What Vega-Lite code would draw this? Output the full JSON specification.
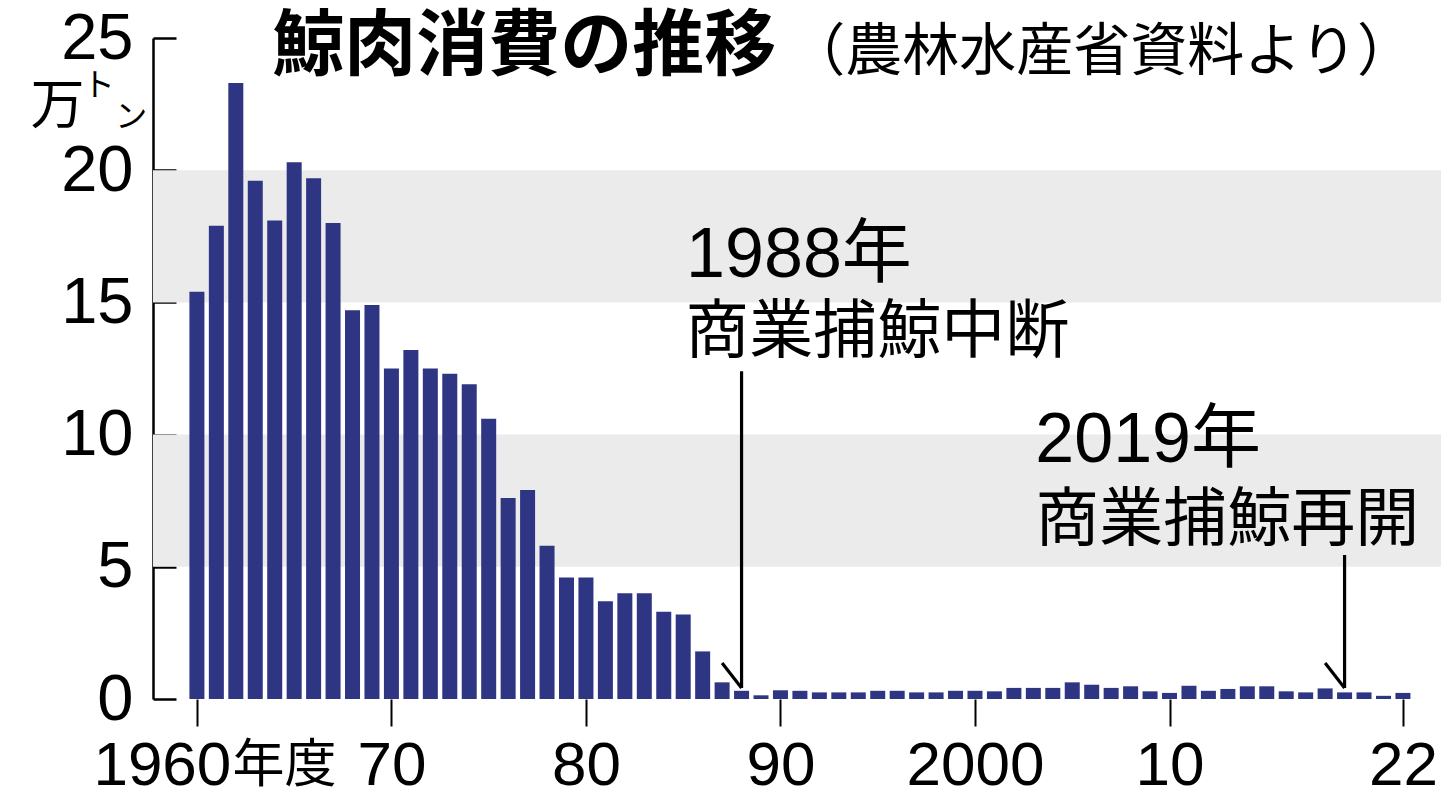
{
  "$schema": "https://vega.github.io/schema/vega-lite/v6.json",
  "width": 1288,
  "height": 661,
  "autosize": {"type": "none"},
  "padding": {"left": 153, "top": 38, "right": 10, "bottom": 98},
  "background": "white",
  "config": {"view": {"stroke": null}},
  "datasets": {
    "whale": [
      {"year": 1960, "v": 15.4}, {"year": 1961, "v": 17.9}, {"year": 1962, "v": 23.3}, {"year": 1963, "v": 19.6},
      {"year": 1964, "v": 18.1}, {"year": 1965, "v": 20.3}, {"year": 1966, "v": 19.7}, {"year": 1967, "v": 18.0},
      {"year": 1968, "v": 14.7}, {"year": 1969, "v": 14.9}, {"year": 1970, "v": 12.5}, {"year": 1971, "v": 13.2},
      {"year": 1972, "v": 12.5}, {"year": 1973, "v": 12.3}, {"year": 1974, "v": 11.9}, {"year": 1975, "v": 10.6},
      {"year": 1976, "v": 7.6}, {"year": 1977, "v": 7.9}, {"year": 1978, "v": 5.8}, {"year": 1979, "v": 4.6},
      {"year": 1980, "v": 4.6}, {"year": 1981, "v": 3.7}, {"year": 1982, "v": 4.0}, {"year": 1983, "v": 4.0},
      {"year": 1984, "v": 3.3}, {"year": 1985, "v": 3.2}, {"year": 1986, "v": 1.8}, {"year": 1987, "v": 0.63},
      {"year": 1988, "v": 0.31}, {"year": 1989, "v": 0.14}, {"year": 1990, "v": 0.33}, {"year": 1991, "v": 0.31},
      {"year": 1992, "v": 0.25}, {"year": 1993, "v": 0.25}, {"year": 1994, "v": 0.25}, {"year": 1995, "v": 0.31},
      {"year": 1996, "v": 0.31}, {"year": 1997, "v": 0.25}, {"year": 1998, "v": 0.25}, {"year": 1999, "v": 0.31},
      {"year": 2000, "v": 0.31}, {"year": 2001, "v": 0.29}, {"year": 2002, "v": 0.42}, {"year": 2003, "v": 0.42},
      {"year": 2004, "v": 0.42}, {"year": 2005, "v": 0.63}, {"year": 2006, "v": 0.54}, {"year": 2007, "v": 0.42},
      {"year": 2008, "v": 0.48}, {"year": 2009, "v": 0.29}, {"year": 2010, "v": 0.23}, {"year": 2011, "v": 0.5},
      {"year": 2012, "v": 0.31}, {"year": 2013, "v": 0.38}, {"year": 2014, "v": 0.48}, {"year": 2015, "v": 0.48},
      {"year": 2016, "v": 0.29}, {"year": 2017, "v": 0.25}, {"year": 2018, "v": 0.4}, {"year": 2019, "v": 0.25},
      {"year": 2020, "v": 0.25}, {"year": 2021, "v": 0.12}, {"year": 2022, "v": 0.23}
    ]
  },
  "layer": [
    {
      "data": {"values": [{"lo": 5, "hi": 10}, {"lo": 15, "hi": 20}]},
      "mark": {"type": "rect", "color": "#ebebeb"},
      "encoding": {
        "y": {
          "field": "lo", "type": "quantitative",
          "scale": {"domain": [0, 25], "nice": false},
          "axis": {
            "values": [0, 5, 10, 15, 20, 25], "grid": false, "title": null,
            "domain": true, "domainColor": "black", "domainWidth": 2.5,
            "ticks": true, "tickSize": -23, "tickWidth": 2.5, "tickColor": "black",
            "labelFont": "Liberation Sans", "labelFontSize": 65, "labelColor": "black",
            "labelPadding": 43, "labelBaseline": "middle", "labelLimit": 0
          }
        },
        "y2": {"field": "hi"}
      }
    },
    {
      "data": {"name": "whale"},
      "mark": {"type": "bar", "size": 15, "color": "#2e3583"},
      "encoding": {
        "x": {
          "field": "year", "type": "quantitative",
          "scale": {"domain": [1958, 2023.7], "nice": false, "zero": false},
          "axis": {
            "values": [1960, 1970, 1980, 1990, 2000, 2010, 2022],
            "labelExpr": "datum.value == 1960 ? '1960' : datum.value == 2000 ? '2000' : format(datum.value % 100, '02d')",
            "domain": false, "grid": false, "title": null,
            "ticks": true, "tickSize": 27, "tickWidth": 2, "tickColor": "black",
            "labelFont": "Liberation Sans", "labelFontSize": 62, "labelColor": "black",
            "labelPadding": 58, "labelBaseline": "alphabetic", "labelFlush": false, "labelOverlap": false, "labelLimit": 0,
            "labelAlign": {"condition": {"test": "datum.value == 1960", "value": "left"}, "value": "center"},
            "labelOffset": {"condition": {"test": "datum.value == 1960", "value": -104}, "value": 0}
          }
        },
        "y": {"field": "v", "type": "quantitative"}
      }
    },
    {
      "data": {"values": [
        {"x": 1988, "y": 12.4, "x2": 1988, "y2": 0.42},
        {"x": 1987.0, "y": 1.36, "x2": 1988, "y2": 0.42},
        {"x": 2019, "y": 5.45, "x2": 2019, "y2": 0.42},
        {"x": 2018.0, "y": 1.36, "x2": 2019, "y2": 0.42}
      ]},
      "mark": {"type": "rule", "color": "black", "strokeWidth": 3.2},
      "encoding": {
        "x": {"field": "x", "type": "quantitative"},
        "y": {"field": "y", "type": "quantitative"},
        "x2": {"field": "x2"},
        "y2": {"field": "y2"}
      }
    },
    {
      "data": {"values": [{"x": 1961.83, "y": -3.15, "t": "年度"}]},
      "mark": {"type": "text", "align": "left", "baseline": "alphabetic", "font": "Noto Sans CJK JP", "fontSize": 52, "color": "black"},
      "encoding": {"x": {"field": "x", "type": "quantitative"}, "y": {"field": "y", "type": "quantitative"}, "text": {"field": "t"}}
    },
    {
      "data": {"values": [{"x": 1963.87, "y": 24.66, "t": "鯨肉消費の推移"}]},
      "mark": {"type": "text", "align": "left", "baseline": "middle", "font": "Noto Sans CJK JP", "fontSize": 72, "fontWeight": "bold", "color": "black"},
      "encoding": {"x": {"field": "x", "type": "quantitative"}, "y": {"field": "y", "type": "quantitative"}, "text": {"field": "t"}}
    },
    {
      "data": {"values": [{"x": 1990.4, "y": 24.45, "t": "（農林水産省資料より）"}]},
      "mark": {"type": "text", "align": "left", "baseline": "middle", "font": "Noto Sans CJK JP", "fontSize": 57, "color": "black"},
      "encoding": {"x": {"field": "x", "type": "quantitative"}, "y": {"field": "y", "type": "quantitative"}, "text": {"field": "t"}}
    },
    {
      "data": {"values": [{"x": 1985.15, "y": 15.95, "t": "1988年"}, {"x": 2003.1, "y": 8.95, "t": "2019年"}]},
      "mark": {"type": "text", "align": "left", "baseline": "alphabetic", "font": "Liberation Sans, Noto Sans CJK JP", "fontSize": 70, "color": "black"},
      "encoding": {"x": {"field": "x", "type": "quantitative"}, "y": {"field": "y", "type": "quantitative"}, "text": {"field": "t"}}
    },
    {
      "data": {"values": [{"x": 1985.1, "y": 13.12, "t": "商業捕鯨中断"}, {"x": 2003.1, "y": 6.01, "t": "商業捕鯨再開"}]},
      "mark": {"type": "text", "align": "left", "baseline": "alphabetic", "font": "Noto Sans CJK JP", "fontSize": 64, "color": "black"},
      "encoding": {"x": {"field": "x", "type": "quantitative"}, "y": {"field": "y", "type": "quantitative"}, "text": {"field": "t"}}
    },
    {
      "data": {"values": [{"x": 1951.45, "y": 21.75, "t": "万"}]},
      "mark": {"type": "text", "align": "left", "baseline": "alphabetic", "font": "Noto Sans CJK JP", "fontSize": 54, "color": "black"},
      "encoding": {"x": {"field": "x", "type": "quantitative"}, "y": {"field": "y", "type": "quantitative"}, "text": {"field": "t"}}
    },
    {
      "data": {"values": [{"x": 1954.95, "y": 23.2, "t": "ト"}, {"x": 1956.62, "y": 22.03, "t": "ン"}]},
      "mark": {"type": "text", "align": "center", "baseline": "middle", "font": "Noto Sans CJK JP", "fontSize": 32, "color": "black"},
      "encoding": {"x": {"field": "x", "type": "quantitative"}, "y": {"field": "y", "type": "quantitative"}, "text": {"field": "t"}}
    }
  ]
}
